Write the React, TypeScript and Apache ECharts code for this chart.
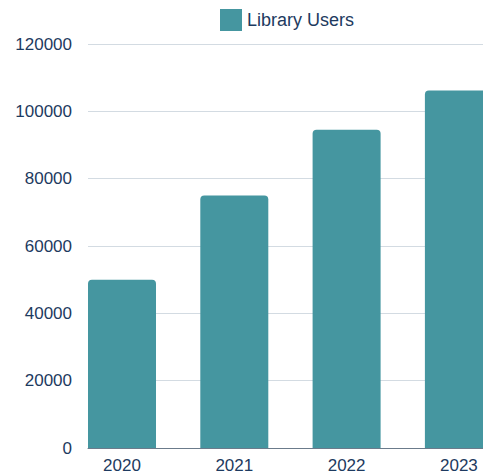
import React, { useEffect, useRef } from "react";
import * as echarts from "echarts";

const categories = ["2020", "2021", "2022", "2023"];
const libraryUsers = [50000, 75000, 94500, 106200];
const yTicks = { min: 0, max: 120000, interval: 20000 };

export default function App() {
  const ref = useRef<HTMLDivElement>(null);
  useEffect(() => {
    if (!ref.current) return;
    const chart = echarts.init(ref.current, undefined, { renderer: "svg" });
    const textColor = "#1d3a60";
    const font = "'Liberation Sans', Arial, sans-serif";
    chart.setOption({
      animation: false,
      legend: {
        left: 215,
        top: 4,
        itemWidth: 22,
        itemHeight: 22,
        icon: "rect",
        textStyle: { fontSize: 18, color: textColor, fontFamily: font },
        data: ["Library Users"],
      },
      grid: { left: 88, right: 0, top: 44, bottom: 24.5, containLabel: false },
      xAxis: {
        type: "value",
        min: -0.3028,
        max: 3.2146,
        splitLine: { show: false },
        axisTick: { show: false },
        axisLine: { show: true, lineStyle: { color: "#6b7b8b", width: 1 } },
        axisLabel: {
          customValues: categories.map((_, i) => i),
          formatter: (v: number) => categories[Math.round(v)] ?? "",
          fontSize: 17,
          color: textColor,
          margin: 9,
          fontFamily: font,
        },
      },
      yAxis: {
        type: "value",
        min: yTicks.min,
        max: yTicks.max,
        interval: yTicks.interval,
        axisLine: { show: false },
        axisTick: { show: false },
        splitLine: { show: true, lineStyle: { color: "#d3dbe2", width: 1 } },
        axisLabel: {
          fontSize: 17,
          color: textColor,
          margin: 16,
          fontFamily: font,
          formatter: (v: number) => String(v),
        },
      },
      series: [
        {
          name: "Library Users",
          type: "bar",
          barWidth: 68,
          data: libraryUsers.map((v, i) => [i, v]),
          itemStyle: { color: "#4596a0", borderRadius: [4, 4, 0, 0] },
        },
      ],
    });
    return () => chart.dispose();
  }, []);
  return (
    <div
      ref={ref}
      style={{ position: "fixed", left: 0, top: 0, width: 483, height: 474, background: "#fff" }}
    />
  );
}
